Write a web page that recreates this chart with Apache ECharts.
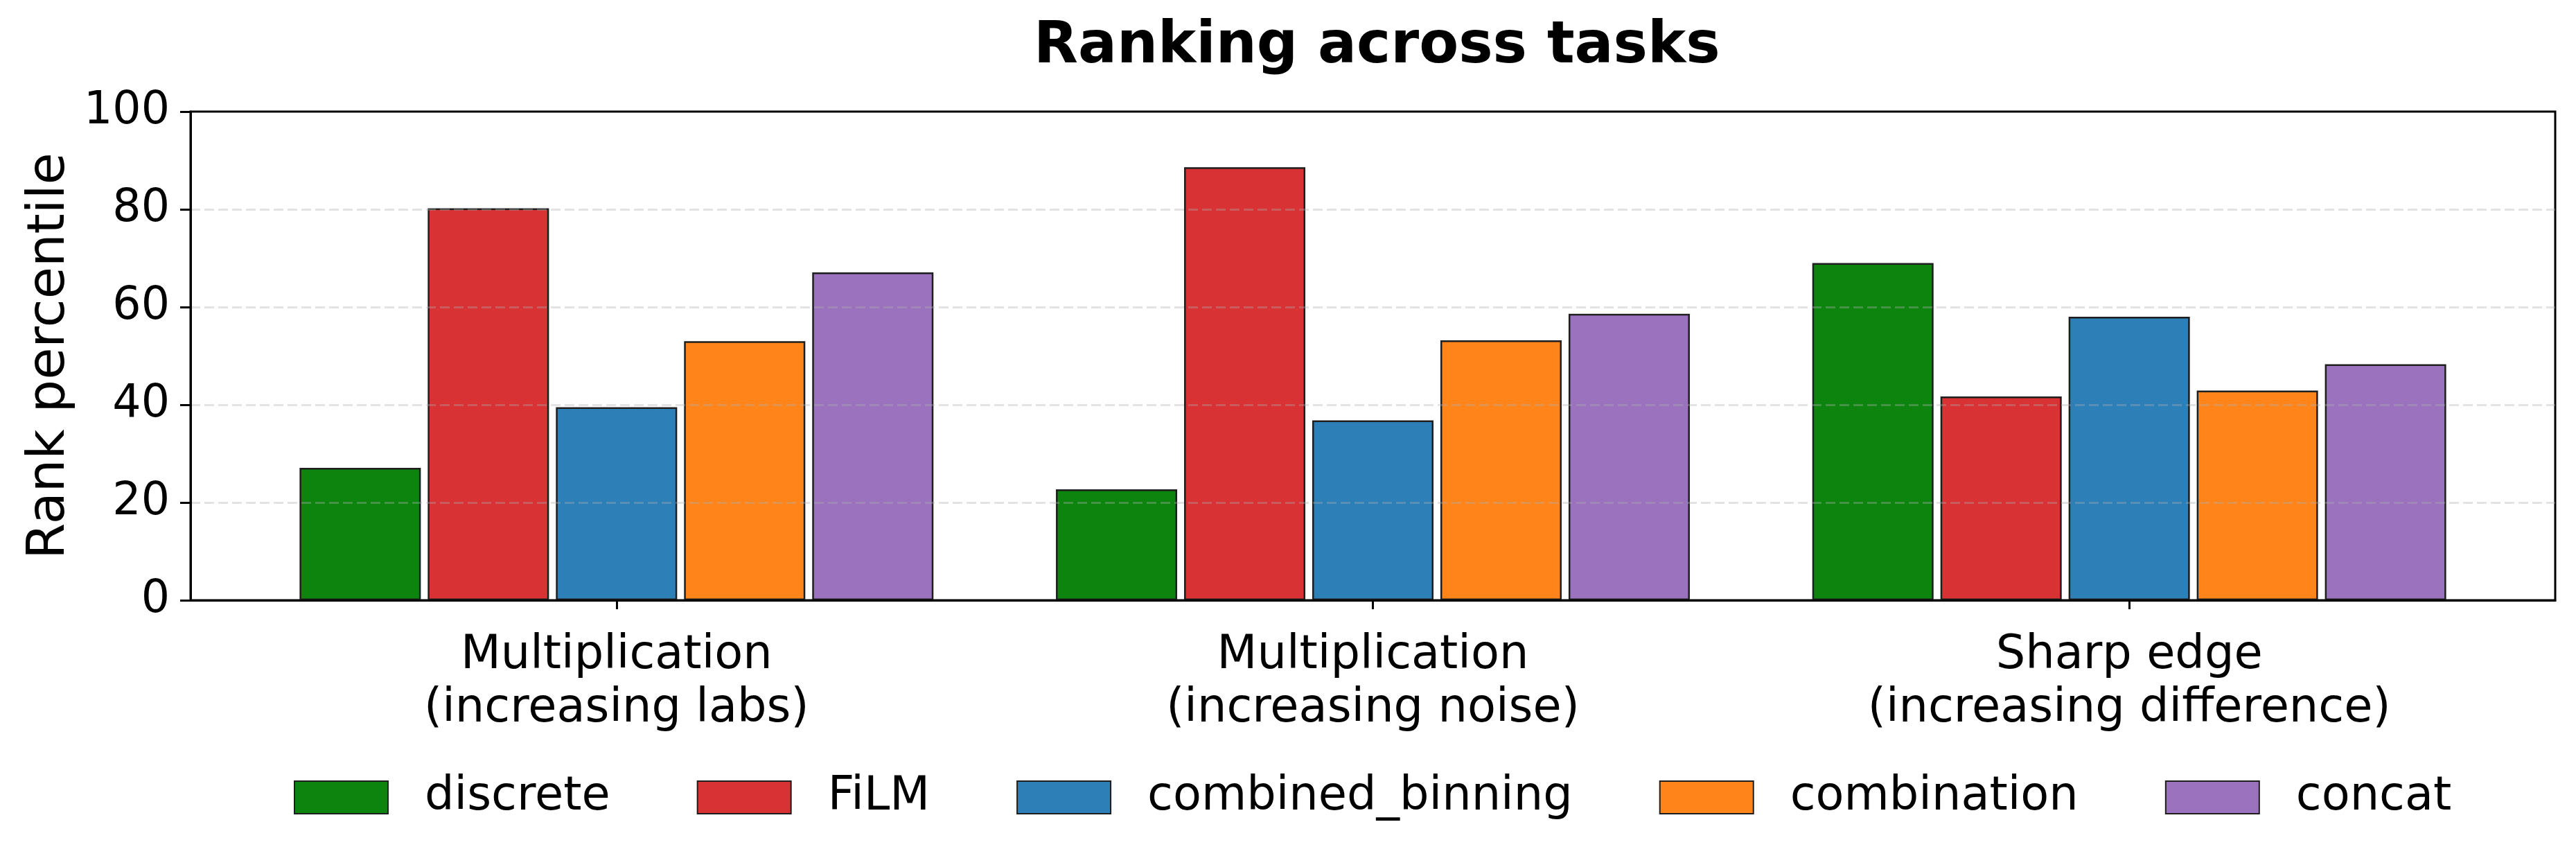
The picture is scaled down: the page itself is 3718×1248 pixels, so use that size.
<!DOCTYPE html>
<html>
<head>
<meta charset="utf-8">
<script src="https://cdn.jsdelivr.net/npm/echarts@6/dist/echarts.min.js"></script>
<style>
  html, body { margin: 0; padding: 0; background: #fff; }
  #main { width: 3718px; height: 1248px; }
</style>
</head>
<body>
<div id="main"></div>
<script>
// tasks on the x axis
const tasks = [
    'Multiplication\n(increasing labs)',
    'Multiplication\n(increasing noise)',
    'Sharp edge\n(increasing difference)'
];
const methods = ['discrete', 'FiLM', 'combined_binning', 'combination', 'concat'];
const colors = ['#0c840e', '#d83234', '#2d7fb8', '#ff851b', '#9a72bd'];

// rank percentile per method, one value per task
const discrete = [27.1, 22.7, 69.0];
const film = [80.2, 88.6, 41.7];
const combinedBinning = [39.5, 36.8, 58.0];
const combination = [53.0, 53.2, 42.9];
const concat = [67.1, 58.6, 48.3];

const yTicks = [0, 20, 40, 60, 80, 100];

const seriesValues = [discrete, film, combinedBinning, combination, concat];
const font = 'DejaVu Sans';
const gridColor = 'rgba(176,176,176,0.35)';

let chart = echarts.init(document.getElementById('main'));

let series = methods.map(function (name, i) {
    return {
        name: name,
        type: 'bar',
        xAxisIndex: 1,
        yAxisIndex: 1,
        data: seriesValues[i],
        barWidth: 175,
        barGap: '5.7%',
        itemStyle: {
            color: colors[i],
            borderColor: '#1e1e1e',
            borderWidth: 2.5
        },
        z: 2
    };
});

let option = {
    animation: false,
    backgroundColor: '#fff',
    title: {
        text: 'Ranking across tasks',
        left: 1487,
        top: 22,
        textStyle: {
            fontFamily: font,
            fontWeight: 'bold',
            fontSize: 83,
            color: '#000'
        }
    },
    legend: {
        data: methods,
        left: 419,
        top: 1112,
        icon: 'rect',
        itemWidth: 135,
        itemHeight: 47,
        itemGap: 125,
        textStyle: {
            fontFamily: font,
            fontSize: 67,
            color: '#000',
            padding: [0, 0, 0, 48]
        }
    },
    grid: [
        // frame: box, y ticks and dashed grid lines
        { left: 275, right: 30, top: 161, bottom: 382, show: true,
          borderColor: '#000', borderWidth: 3, backgroundColor: 'transparent' },
        // bars: category bands with matplotlib-style padding
        { left: 344, right: 99, top: 161, bottom: 382 }
    ],
    xAxis: [
        {
            gridIndex: 0, type: 'value', min: 0, max: 1,
            axisLine: { show: true, lineStyle: { color: '#000', width: 3 } },
            axisTick: { show: false },
            axisLabel: { show: false },
            splitLine: { show: false },
            z: 5
        },
        {
            gridIndex: 1, type: 'category', data: tasks,
            axisLine: { show: false },
            axisTick: { show: true, alignWithLabel: true, length: 13,
                        lineStyle: { color: '#000', width: 3 } },
            axisLabel: {
                fontFamily: font, fontSize: 67, color: '#000',
                lineHeight: 77, margin: 42
            },
            splitLine: { show: false }
        }
    ],
    yAxis: [
        {
            gridIndex: 0, type: 'value', min: 0, max: 100, interval: 20,
            name: 'Rank percentile',
            nameLocation: 'middle',
            nameGap: 150,
            nameTextStyle: { fontFamily: font, fontSize: 75, color: '#000' },
            axisLine: { show: true, lineStyle: { color: '#000', width: 3 } },
            axisTick: { show: true, length: 15, lineStyle: { color: '#000', width: 3 } },
            axisLabel: {
                fontFamily: font, fontSize: 65, color: '#000', margin: 30,
                formatter: function (v) { return yTicks.indexOf(v) >= 0 ? String(v) : ''; }
            },
            splitLine: {
                show: true,
                lineStyle: {
                    color: ['transparent', gridColor, gridColor, gridColor, gridColor, 'transparent'],
                    width: 3, type: [14, 6]
                }
            },
            z: 5
        },
        {
            gridIndex: 1, type: 'value', min: 0, max: 100, interval: 20,
            show: false,
            splitLine: { show: false }
        }
    ],
    series: series
};

chart.setOption(option);
</script>
</body>
</html>
